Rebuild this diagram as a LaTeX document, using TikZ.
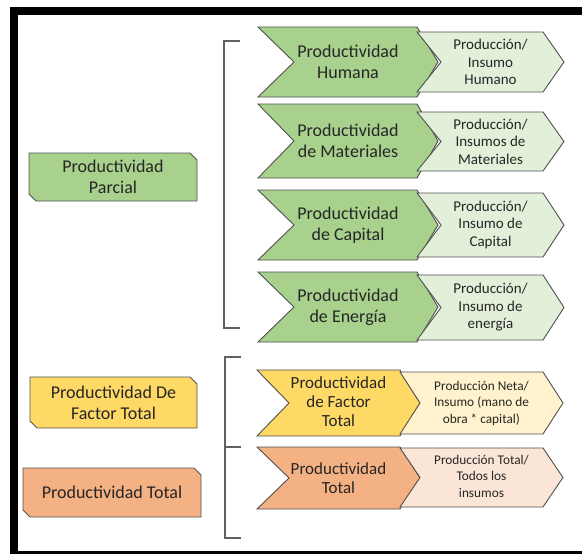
\documentclass[tikz,border=0pt]{standalone}
\usepackage{fontspec}
\setmainfont{Carlito}
\definecolor{gdark}{HTML}{A9D18E}
\definecolor{glight}{HTML}{E2F0D9}
\definecolor{ydark}{HTML}{FFD966}
\definecolor{ylight}{HTML}{FFF2CC}
\definecolor{odark}{HTML}{F4B183}
\definecolor{olight}{HTML}{FBE5D6}
\definecolor{edge}{HTML}{505050}
\definecolor{ink}{HTML}{262626}
\tikzset{
  shapeline/.style={draw=edge, line width=0.9pt, line join=miter},
  bigtext/.style={align=center, text=ink, font=\fontsize{18}{21}\selectfont, inner sep=0pt},
  midtext/.style={align=center, text=ink, font=\fontsize{17}{19}\selectfont, inner sep=0pt},
  smalltext/.style={align=center, text=ink, font=\fontsize{15}{17.5}\selectfont, inner sep=0pt},
  tinytext/.style={align=center, text=ink, font=\fontsize{13.3}{16.5}\selectfont, inner sep=0pt},
  bracket/.style={draw=edge!90, line width=1.4pt},
}
% chevron: #1 fill, #2 left, #3 notch, #4 shoulder, #5 tip, #6 top, #7 bottom
\newcommand{\chevron}[7]{%
  \draw[shapeline, fill=#1] (#2,#6) -- (#4,#6) -- (#5,{(#6+#7)/2}) -- (#4,#7)
    -- (#2,#7) -- (#3,{(#6+#7)/2}) -- cycle;}
% rectangle with its top-right and bottom-left corners cut off
\newcommand{\snipbox}[5]{%
  \draw[shapeline, fill=#1] (#2,#4) -- ({#3-7},#4) -- (#3,{#4+7}) -- (#3,#5)
    -- ({#2+7},#5) -- (#2,{#5-7}) -- cycle;}
\begin{document}
\begin{tikzpicture}[x=1pt, y=-1pt]
\useasboundingbox (0,0) rectangle (582,554);
\begin{scope}
\clip (0,0) rectangle (582,554);
\fill[white] (0,0) rectangle (582,554);
\draw[black, line width=8pt] (14,11) rectangle (600,555);
\end{scope}

% categories on the left
\snipbox{gdark}{29}{197}{153}{201}
\node[bigtext] (parcial) at (113,177) {Productividad\\Parcial};
\snipbox{ydark}{30}{197}{377}{428}
\node[bigtext] (factor) at (113.5,402.5) {Productividad De\\Factor Total};
\snipbox{odark}{23}{201}{468}{517}
\node[bigtext] (total) at (112,492.5) {Productividad Total};

% brackets
\draw[bracket] (240,41) -- (224,41) -- (224,328) -- (240,328);
\draw[bracket] (241,357) -- (225,357) -- (225,538) -- (241,538);
\draw[bracket] (225,447) -- (241,447);

% partial productivity rows
\chevron{gdark}{258}{294}{417}{438}{27}{97}
\node[bigtext] (hum) at (348,62) {Productividad\\Humana};
\chevron{glight}{417}{441}{543}{564}{32}{92}
\node[smalltext] (humf) at (490.5,62) {Producción/\\Insumo\\Humano};

\chevron{gdark}{258}{294}{417}{438}{104}{178}
\node[bigtext] (mat) at (348,141) {Productividad\\de Materiales};
\chevron{glight}{417}{441}{543}{564}{112}{171}
\node[smalltext] (matf) at (490.5,141.5) {Producción/\\Insumos de\\Materiales};

\chevron{gdark}{258}{294}{417}{438}{190}{260}
\node[bigtext] (cap) at (348,225) {Productividad\\de Capital};
\chevron{glight}{417}{441}{543}{564}{193}{257}
\node[smalltext] (capf) at (490.5,225) {Producción/\\Insumo de\\Capital};

\chevron{gdark}{258}{294}{417}{438}{272}{342}
\node[bigtext] (ene) at (348,307) {Productividad\\de Energía};
\chevron{glight}{417}{441}{543}{564}{275}{340}
\node[smalltext] (enef) at (490.5,307.5) {Producción/\\Insumo de\\energía};

% total factor and total productivity rows
\chevron{ydark}{257}{289}{400}{420}{370}{436}
\node[midtext] (tfp) at (338.5,402) {Productividad\\de Factor\\Total};
\chevron{ylight}{400}{420}{543}{563}{372}{434}
\node[tinytext] (tfpf) at (481.5,403) {Producción Neta/\\Insumo (mano de\\obra * capital)};

\chevron{odark}{257}{289}{400}{420}{447}{509}
\node[midtext] (tp) at (338.5,478) {Productividad\\Total};
\chevron{olight}{400}{420}{543}{563}{448}{507}
\node[tinytext] (tpf) at (481.5,476) {Producción Total/\\Todos los\\insumos};
\end{tikzpicture}
\end{document}
